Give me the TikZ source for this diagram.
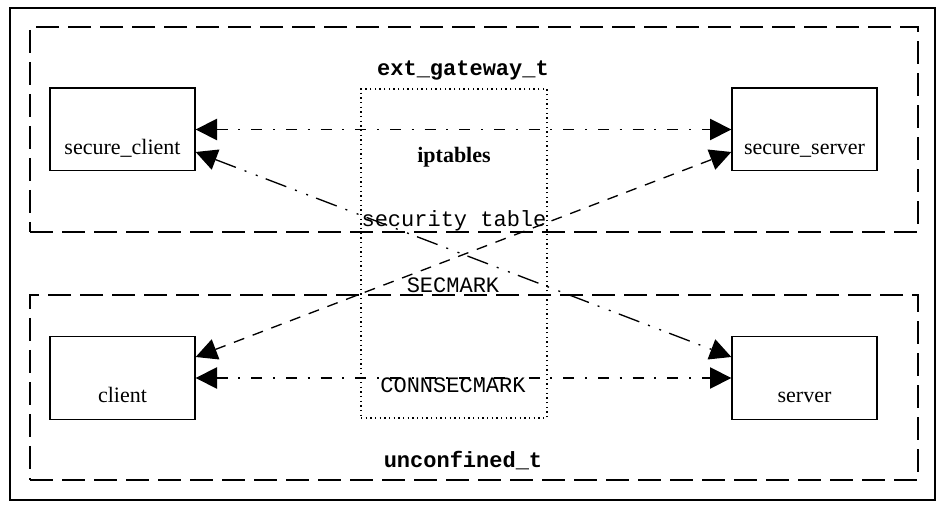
\documentclass[tikz,border=0pt]{standalone}
\usepackage{fontspec}
\setmainfont{Liberation Serif}
\setmonofont{Liberation Mono}
\usetikzlibrary{arrows.meta,calc}
\tikzset{
  lbl/.style={font=\fontsize{16.5}{18}\selectfont},
  boxnode/.style={draw, line width=1pt, inner sep=0pt, minimum width=108.75pt, minimum height=62pt,
    text height=37.5pt, text depth=0pt, lbl},
  cluster/.style={draw, line width=1pt, inner sep=0pt, dash pattern=on 17pt off 7pt},
  dotbox/.style={draw, line width=1pt, inner sep=0pt, dash pattern=on 1pt off 2.5pt},
  tip/.style={arrows={Triangle[length=16pt,width=16pt]-Triangle[length=16pt,width=16pt]}},
  dashdot/.style={line width=1pt, tip, dash pattern=on 8.25pt off 8pt on 1.5pt off 8.25pt},
  dashdotdot/.style={line width=1pt, tip, dash pattern=on 16.5pt off 7pt on 1.5pt off 7.5pt on 1.5pt off 6.5pt},
  dashline/.style={line width=1pt, tip, dash pattern=on 8.25pt off 6.75pt},
  txt/.style={lbl, anchor=base, inner sep=0pt}
}
\begin{document}
\begin{tikzpicture}[x=0.75pt,y=-0.75pt]
\useasboundingbox (0,0) rectangle (942,505);
\node[draw, line width=1pt, minimum width=693.75pt, minimum height=369pt, inner sep=0pt] (frame) at (472.5,254) {};
\node[cluster, minimum width=666pt, minimum height=153.75pt] (ext) at (474,129.5) {};
\node[cluster, minimum width=666pt, minimum height=138.75pt] (unc) at (474,387.5) {};
\node[dotbox, minimum width=139.5pt, minimum height=246.75pt] (ipt) at (454,253.5) {};
\node[txt] (extl) at (463,76) {\ttfamily\bfseries ext\_gateway\_t};
\node[txt] (uncl) at (463,468) {\ttfamily\bfseries unconfined\_t};
\node[txt] (iptl) at (454,163) {\bfseries iptables};
\node[txt] (sect) at (454,227) {\ttfamily security table};
\node[txt] (secm) at (453,293) {\ttfamily SECMARK};
\node[txt] (conn) at (453,393) {\ttfamily CONNSECMARK};
\node[boxnode] (sc) at (122.5,129.5) {secure\_client};
\node[boxnode] (ss) at (804.5,129.5) {secure\_server};
\node[boxnode] (cl) at (122.5,378) {client};
\node[boxnode] (sv) at (804.5,378) {server};
\draw[dashdot] (sc.east) -- (ss.west);
\draw[dashdotdot] ($(sc.east)+(0,22.5)$) -- ($(sv.west)+(0,-21)$);
\draw[dashline] ($(cl.east)+(0,-21)$) -- ($(ss.west)+(0,22.5)$);
\draw[dashdot] (cl.east) -- (sv.west);
\end{tikzpicture}
\end{document}
